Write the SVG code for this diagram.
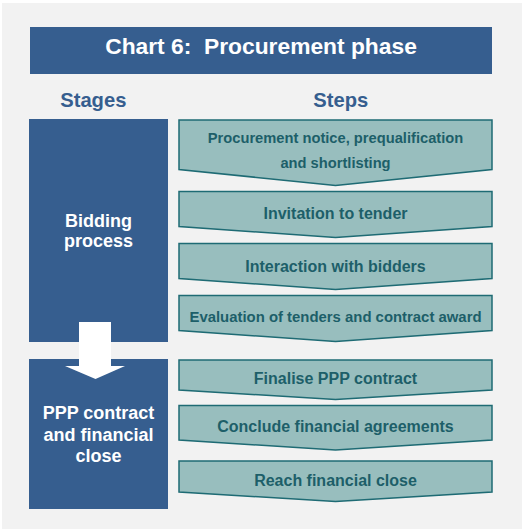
<svg xmlns="http://www.w3.org/2000/svg" width="522" height="529" viewBox="0 0 522 529">
<style>
.bg{fill:#f2f2f2}
.stage{fill:#365e8f}
.step{fill:#98bebe;stroke:#1e6b74;stroke-width:1.5;stroke-linejoin:miter}
.t{font-family:"Liberation Sans",Arial,sans-serif;font-weight:bold;text-anchor:middle}
.title{fill:#ffffff;font-size:22.8px}
.head{fill:#365e8f;font-size:20.2px}
.st{fill:#ffffff;font-size:18px}
.sp{fill:#1d5f69;font-size:16px}
</style>
<rect x="0" y="0" width="522" height="529" fill="#ffffff"/>
<rect class="bg" x="2" y="3" width="520" height="526"/>
<g id="title">
<rect class="stage" x="30" y="27" width="462" height="47"/>
<text class="t title" x="261" y="54.3" xml:space="preserve">Chart 6:  Procurement phase</text>
</g>
<g id="headers">
<text class="t head" x="93.3" y="106.5">Stages</text>
<text class="t head" x="340.8" y="106.5">Steps</text>
</g>
<g id="stage-bidding">
<rect class="stage" x="29" y="119" width="139" height="223"/>
<text class="t st" x="98.5" y="226.7">Bidding</text>
<text class="t st" x="98.5" y="247.3">process</text>
</g>
<g id="stage-close">
<rect class="stage" x="29" y="359" width="139" height="150"/>
<text class="t st" x="98.5" y="418.7">PPP contract</text>
<text class="t st" x="98.5" y="440.7">and financial</text>
<text class="t st" x="98.5" y="462">close</text>
</g>
<g id="connectors">
<polygon fill="#ffffff" points="79,322 111,322 111,366 125,366 95.5,379 65,366 79,366"/>
</g>
<g id="step1">
<polygon class="step" points="179,120 492,120 492,169.5 335.5,185.5 179,169.5"/>
<text class="t sp" style="font-size:14.7px" x="335.5" y="143.3">Procurement notice, prequalification</text>
<text class="t sp" style="font-size:14.7px" x="335.5" y="168">and shortlisting</text>
</g>
<g id="step2">
<polygon class="step" points="179,191.5 492,191.5 492,226.5 335.5,237.5 179,226.5"/>
<text class="t sp" x="335.5" y="219.3">Invitation to tender</text>
</g>
<g id="step3">
<polygon class="step" points="179,243.5 492,243.5 492,278.5 335.5,289.5 179,278.5"/>
<text class="t sp" x="335.5" y="271.7">Interaction with bidders</text>
</g>
<g id="step4">
<polygon class="step" points="179,295.5 492,295.5 492,330.5 335.5,341.5 179,330.5"/>
<text class="t sp" style="font-size:14.9px" x="335.5" y="321.7">Evaluation of tenders and contract award</text>
</g>
<g id="step5">
<polygon class="step" points="179,360 492,360 492,390 335.5,399.5 179,390"/>
<text class="t sp" x="335.5" y="384">Finalise PPP contract</text>
</g>
<g id="step6">
<polygon class="step" points="179,405.5 492,405.5 492,440 335.5,450 179,440"/>
<text class="t sp" x="335.5" y="431.7">Conclude financial agreements</text>
</g>
<g id="step7">
<polygon class="step" points="179,461 492,461 492,492 335.5,501.5 179,492"/>
<text class="t sp" x="335.5" y="485.7">Reach financial close</text>
</g>
</svg>
